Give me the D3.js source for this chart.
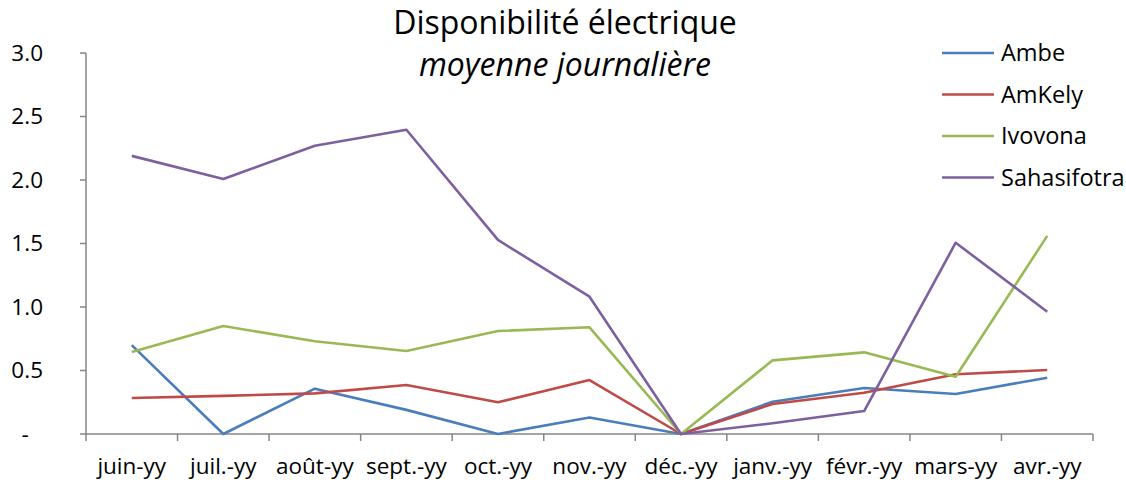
<!DOCTYPE html>
<html>
<head>
<meta charset="utf-8">
<script src="https://cdn.jsdelivr.net/npm/d3@7"></script>
<style>
  body { margin: 0; background: #fff; }
  text { font-family: "Open Sans", Lato, sans-serif; fill: #000; }
</style>
</head>
<body>
<script>
var width = 1126, height = 485;

// data
var months = ["juin-yy", "juil.-yy", "août-yy", "sept.-yy", "oct.-yy", "nov.-yy",
              "déc.-yy", "janv.-yy", "févr.-yy", "mars-yy", "avr.-yy"];
var seriesNames = ["Ambe", "AmKely", "Ivovona", "Sahasifotra"];
var ambe        = [0.70, 0.00, 0.357, 0.19, 0.00, 0.13, 0.00, 0.254, 0.362, 0.315, 0.443];
var amKely      = [0.283, 0.30, 0.32, 0.386, 0.25, 0.425, 0.00, 0.236, 0.325, 0.47, 0.504];
var ivovona     = [0.646, 0.85, 0.73, 0.654, 0.811, 0.84, 0.00, 0.58, 0.643, 0.451, 1.56];
var sahasifotra = [2.19, 2.008, 2.27, 2.396, 1.528, 1.081, 0.00, 0.085, 0.181, 1.506, 0.963];
var yTicks = [0, 0.5, 1.0, 1.5, 2.0, 2.5, 3.0];
var colors = ["#4A7EBB", "#BE4B48", "#98B954", "#7D60A0"];

var seriesData = [ambe, amKely, ivovona, sahasifotra];

var margin = {top: 53, left: 86, right: 33, bottom: 51};

var svg = d3.select("body")
    .append("svg")
    .attr("width", width)
    .attr("height", height);

var x = d3.scaleBand()
    .domain(months)
    .range([margin.left, width - margin.right]);

var y = d3.scaleLinear()
    .domain([0, 3])
    .range([height - margin.bottom, margin.top]);

// x axis
var xAxis = svg.append("g")
    .attr("transform", "translate(0," + y(0) + ")");
xAxis.append("line")
    .attr("x1", x.range()[0]).attr("x2", x.range()[1])
    .attr("stroke", "#868686").attr("stroke-width", 1.5);
var xTickPos = months.map(function (m) { return x(m); }).concat([x.range()[1]]);
xAxis.selectAll(".xt")
    .data(xTickPos)
    .enter().append("line")
    .attr("x1", function (d) { return d; })
    .attr("x2", function (d) { return d; })
    .attr("y1", 0).attr("y2", 7)
    .attr("stroke", "#868686").attr("stroke-width", 1.5);
xAxis.selectAll(".xl")
    .data(months)
    .enter().append("text")
    .attr("x", function (d) { return x(d) + x.bandwidth() / 2; })
    .attr("y", 40)
    .attr("text-anchor", "middle")
    .style("font-size", "22.5px")
    .text(function (d) { return d; });

// y axis
var yAxis = svg.append("g")
    .attr("transform", "translate(" + margin.left + ",0)");
yAxis.append("line")
    .attr("y1", y(0)).attr("y2", y(3))
    .attr("stroke", "#868686").attr("stroke-width", 1.5);
yAxis.selectAll(".yt")
    .data(yTicks)
    .enter().append("line")
    .attr("x1", -6).attr("x2", 0)
    .attr("y1", function (d) { return y(d); })
    .attr("y2", function (d) { return y(d); })
    .attr("stroke", "#868686").attr("stroke-width", 1.5);
yAxis.selectAll(".yl")
    .data(yTicks)
    .enter().append("text")
    .attr("x", function (d) { return d === 0 ? -61 : -43; })
    .attr("y", function (d) { return y(d); })
    .attr("dy", "0.35em")
    .attr("text-anchor", function (d) { return d === 0 ? "middle" : "end"; })
    .style("font-size", "22.5px")
    .text(function (d) { return d === 0 ? "-" : d3.format(".1f")(d); });

// lines
var line = d3.line()
    .x(function (d, i) { return x(months[i]) + x.bandwidth() / 2; })
    .y(function (d) { return y(d); });

svg.selectAll(".series")
    .data(seriesData)
    .enter().append("path")
    .attr("d", line)
    .attr("fill", "none")
    .attr("stroke", function (d, i) { return colors[i]; })
    .attr("stroke-width", 2.6)
    .attr("stroke-linejoin", "round");

// title
svg.append("text")
    .attr("x", 565).attr("y", 34)
    .attr("text-anchor", "middle")
    .style("font-size", "32px")
    .text("Disponibilité électrique");
svg.append("text")
    .attr("x", 565).attr("y", 76)
    .attr("text-anchor", "middle")
    .style("font-size", "32px")
    .style("font-style", "italic")
    .text("moyenne journalière");

// legend
var legend = svg.selectAll(".legend")
    .data(seriesNames)
    .enter().append("g")
    .attr("transform", function (d, i) { return "translate(942," + (53 + i * 41.5) + ")"; });
legend.append("line")
    .attr("x1", 0).attr("x2", 52)
    .attr("stroke", function (d, i) { return colors[i]; })
    .attr("stroke-width", 2.6);
legend.append("text")
    .attr("x", 59)
    .attr("dy", "0.35em")
    .style("font-size", "23.5px")
    .text(function (d) { return d; });
</script>
</body>
</html>
